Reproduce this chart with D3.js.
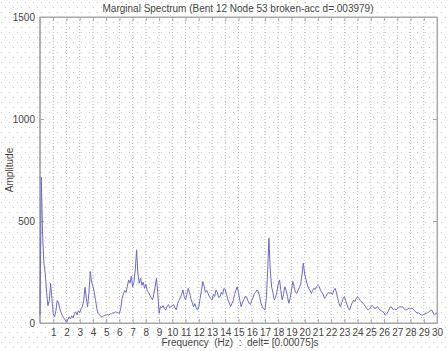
<!DOCTYPE html>
<html>
<head>
<meta charset="utf-8">
<script src="https://cdn.jsdelivr.net/npm/d3@7"></script>
<style>
  body { margin: 0; background: #fff; }
  text { font-family: "Liberation Sans", Arial, sans-serif; white-space: pre; }
</style>
</head>
<body>
<div id="chart"></div>
<script>
// chart texts
var title = "Marginal Spectrum (Bent 12 Node 53 broken-acc d=.003979)";
var xLabel = "Frequency  (Hz)  :  delt= [0.00075]s";
var yLabel = "Amplitude";

// tick labels
var xTicks = d3.range(1, 31);
var yTicks = [0, 500, 1000, 1500];

// spectrum amplitudes, one per 0.1 Hz from 0 to 30 Hz
var freqStep = 0.1;
var amplitude = [
  40, 715, 420, 290, 240, 150, 85, 110, 195, 120,
  45, 30, 60, 110, 100, 70, 50, 35, 25, 15,
  5, 15, 30, 20, 35, 25, 45, 55, 40, 60,
  50, 70, 80, 110, 175, 120, 80, 150, 252, 200,
  180, 150, 110, 70, 47, 40, 32, 30, 35, 38,
  40, 42, 38, 45, 44, 50, 48, 55, 52, 50,
  47, 70, 120, 140, 160, 150, 180, 211, 195, 230,
  178, 200, 260, 358, 240, 195, 220, 185, 200, 170,
  190, 160, 150, 137, 125, 113, 140, 180, 219, 150,
  47, 80, 75, 85, 70, 64, 80, 90, 75, 80,
  85, 90, 75, 64, 95, 110, 125, 140, 162, 130,
  113, 140, 170, 150, 120, 100, 80, 95, 75, 64,
  80, 120, 160, 203, 180, 150, 160, 145, 130, 120,
  113, 140, 130, 162, 150, 125, 129, 150, 140, 170,
  165, 140, 113, 100, 80, 95, 110, 140, 160, 178,
  150, 110, 80, 100, 115, 130, 129, 110, 97, 90,
  110, 125, 145, 150, 162, 155, 130, 97, 80, 70,
  64, 120, 250, 415, 260, 178, 150, 113, 125, 150,
  190, 211, 160, 113, 140, 178, 160, 130, 97, 120,
  160, 203, 180, 150, 145, 160, 175, 190, 240, 293,
  240, 211, 190, 170, 160, 145, 160, 170, 165, 178,
  185, 178, 160, 150, 140, 121, 130, 140, 150, 145,
  150, 140, 160, 170, 150, 120, 95, 80, 100, 120,
  129, 110, 90, 70, 64, 85, 100, 113, 105, 120,
  129, 120, 110, 105, 97, 90, 80, 70, 64, 70,
  80, 85, 80, 70, 75, 80, 70, 64, 60, 55,
  50, 39, 45, 55, 70, 80, 75, 65, 70, 64,
  70, 75, 80, 78, 80, 70, 65, 64, 70, 72,
  70, 72, 68, 60, 55, 47, 50, 45, 40, 39,
  42, 45, 47, 50, 55, 60, 64, 50, 39, 45,
  50
];

var W = 448, H = 351;
var margin = {top: 17, right: 11, bottom: 28, left: 40},
    width = W - margin.left - margin.right,
    height = H - margin.top - margin.bottom;

var root = d3.select("#chart").append("svg")
    .attr("width", W)
    .attr("height", H);

// dotted background
var pat = root.append("defs").append("pattern")
    .attr("id", "dots")
    .attr("width", 8).attr("height", 10)
    .attr("patternUnits", "userSpaceOnUse");
pat.append("rect").attr("x", 1).attr("y", 2).attr("width", 1).attr("height", 1).attr("fill", "#c4c4c4");
pat.append("rect").attr("x", 5).attr("y", 7).attr("width", 1).attr("height", 1).attr("fill", "#c4c4c4");
root.append("rect").attr("width", W).attr("height", H).attr("fill", "url(#dots)");

var svg = root.append("g")
    .attr("transform", "translate(" + margin.left + "," + margin.top + ")");

var x = d3.scaleLinear().domain([0, 30]).range([0, width]);
var y = d3.scaleLinear().domain([0, 1500]).range([height, 0]);

// vertical dotted grid
svg.selectAll("vgrid")
  .data(xTicks.slice(0, -1))
  .enter()
  .append("line")
    .attr("x1", function(d) { return x(d); })
    .attr("x2", function(d) { return x(d); })
    .attr("y1", 0)
    .attr("y2", height)
    .attr("stroke", "#b8b8b8")
    .attr("stroke-dasharray", "1,2");

// frame
svg.append("rect")
    .attr("width", width).attr("height", height)
    .attr("fill", "none").attr("stroke", "#a8a8a8");

// bottom axis
svg.append("g")
    .attr("transform", "translate(0," + height + ")")
    .call(d3.axisBottom(x).tickValues(xTicks).tickSize(-4).tickPadding(6).tickFormat(d3.format("d")));
// top ticks
svg.append("g")
    .call(d3.axisTop(x).tickValues(xTicks).tickSize(-4).tickFormat(""));
// left axis
svg.append("g")
    .call(d3.axisLeft(y).tickValues(yTicks).tickSize(-4).tickPadding(5).tickFormat(d3.format("d")));
// right ticks
svg.append("g")
    .attr("transform", "translate(" + width + ",0)")
    .call(d3.axisRight(y).tickValues(yTicks).tickSize(-4).tickFormat(""));

svg.selectAll(".domain").attr("stroke", "#a8a8a8");
svg.selectAll(".tick line").attr("stroke", "#a8a8a8");
svg.selectAll(".tick text").attr("fill", "#444").style("font-size", "10px");

// thicker left spine
svg.append("line")
    .attr("x1", 0).attr("x2", 0).attr("y1", 0).attr("y2", height)
    .attr("stroke", "#b0b0b0").attr("stroke-width", 2);

// spectrum line
var line = d3.line()
    .x(function(d, i) { return x(i * freqStep); })
    .y(function(d) { return y(d); });

svg.append("path")
    .datum(amplitude)
    .attr("fill", "none")
    .attr("stroke", "#6a6ad0")
    .attr("stroke-width", 1)
    .attr("d", line);

// title
root.append("text")
    .attr("x", 238).attr("y", 12)
    .attr("text-anchor", "middle")
    .attr("fill", "#444")
    .style("font-size", "10px")
    .text(title);

// x label
root.append("text")
    .attr("x", 240).attr("y", 346)
    .attr("text-anchor", "middle")
    .attr("fill", "#444")
    .style("font-size", "10px")
    .text(xLabel);

// y label
root.append("text")
    .attr("transform", "translate(13,170) rotate(-90)")
    .attr("text-anchor", "middle")
    .attr("fill", "#444")
    .style("font-size", "10px")
    .text(yLabel);
</script>
</body>
</html>
